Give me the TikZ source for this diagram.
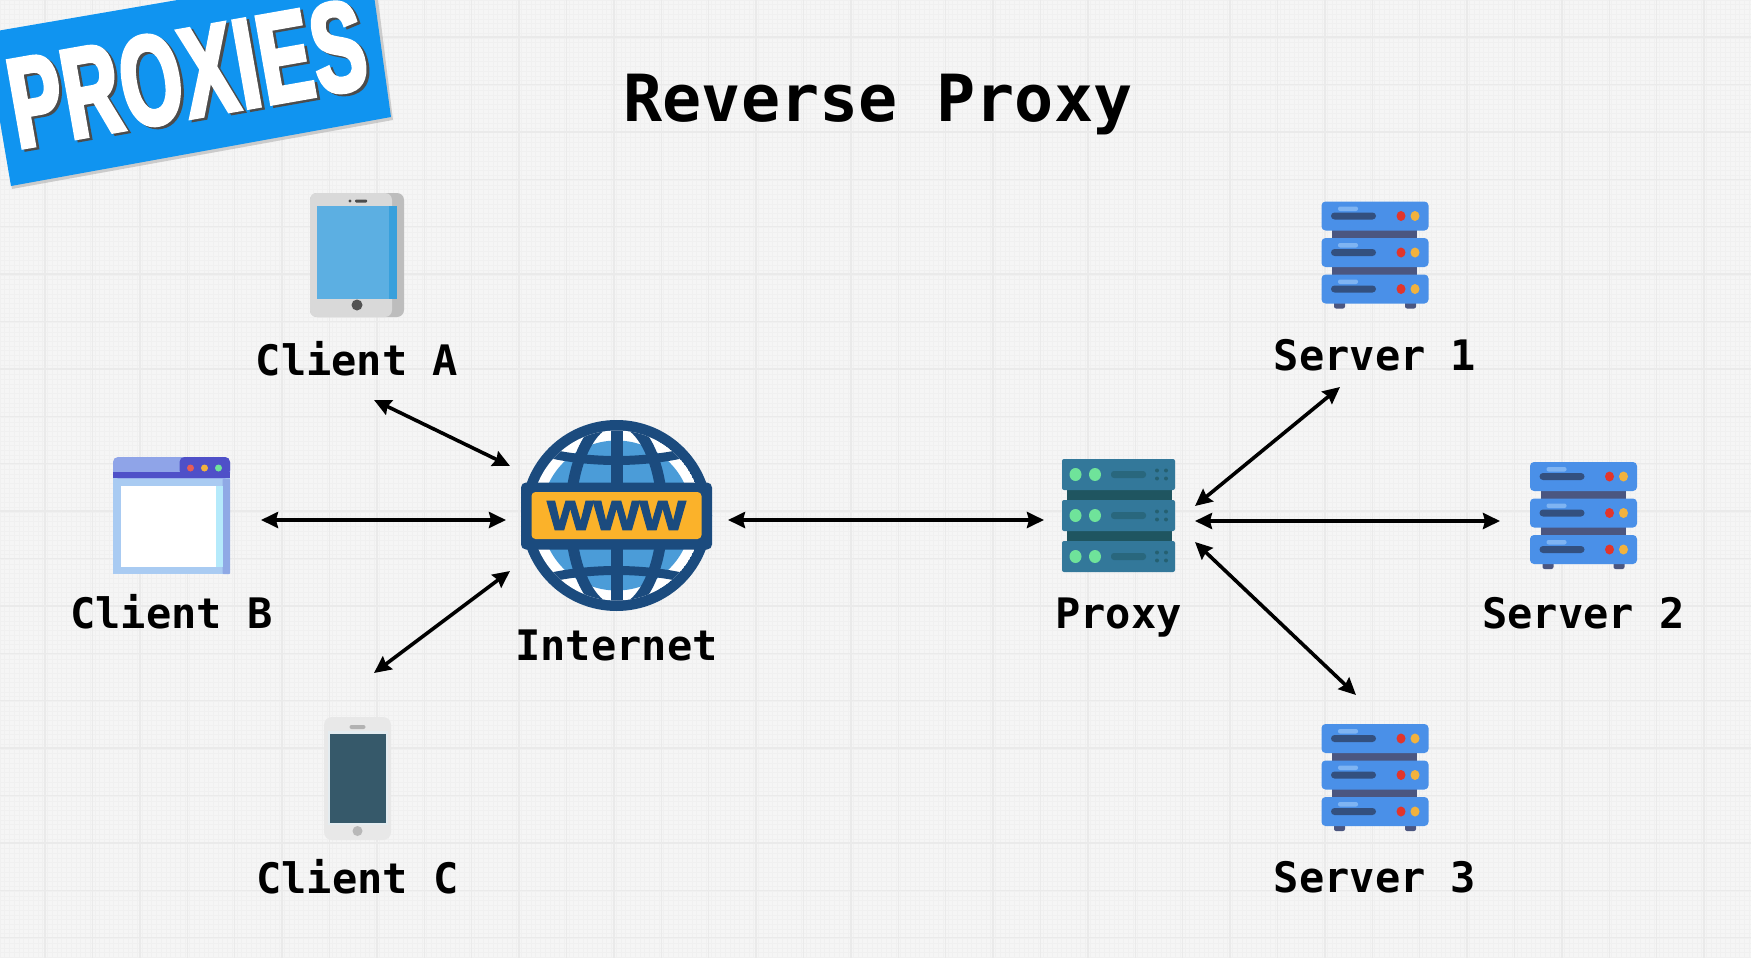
\documentclass[tikz,border=0pt]{standalone}
\usepackage{fontspec}
\usetikzlibrary{positioning, arrows.meta}
\newfontfamily\labelfont{DejaVu Sans Mono}
\newfontfamily\bannerfont{Liberation Sans Bold}[FakeStretch=0.61,FakeBold=3,LetterSpace=1.5]
\newfontfamily\wwwfont{Liberation Sans Bold}[FakeStretch=1.1,FakeBold=2]
\definecolor{paper}{HTML}{F5F5F5}
\definecolor{paperdot}{HTML}{F0F0F0}
\definecolor{paperline}{HTML}{EAEAEA}
\definecolor{bannerblue}{HTML}{1094F0}
\definecolor{navy}{HTML}{1B4B7E}
\definecolor{globeblue}{HTML}{4B9CD8}
\definecolor{wwworange}{HTML}{FBB22A}
\definecolor{unitblue}{HTML}{4A90E8}
\definecolor{unitlight}{HTML}{7FB4F2}
\definecolor{unitdark}{HTML}{4B5680}
\definecolor{unitslot}{HTML}{33507F}
\definecolor{ledred}{HTML}{E2352B}
\definecolor{ledyellow}{HTML}{F2B23E}
\definecolor{rackteal}{HTML}{33789A}
\definecolor{rackdark}{HTML}{1F5560}
\definecolor{rackled}{HTML}{6FE39A}
\definecolor{tabletblue}{HTML}{5CAFE2}
\definecolor{tabletedge}{HTML}{38A0DC}
\definecolor{winlight}{HTML}{A9CBF2}
\definecolor{winedge}{HTML}{8FA9E5}
\definecolor{winpale}{HTML}{B5EAFB}
\definecolor{winbar}{HTML}{8FA4E8}
\definecolor{windark}{HTML}{4F50C8}
\definecolor{phonescreen}{HTML}{36596A}
\definecolor{phonehalo}{HTML}{E4ECF0}
\tikzset{
  caption/.style={
    font=\labelfont\bfseries\fontsize{42}{42}\selectfont,
    inner sep=0pt, text height=32pt, text depth=0pt, text=black
  },
  title/.style={font=\labelfont\bfseries\fontsize{65}{65}\selectfont, inner sep=0pt, text=black},
  banner/.style={font=\bannerfont\fontsize{128}{128}\selectfont, inner sep=0pt, rotate=10},
  iconbox/.style={inner sep=0pt, outer sep=0pt},
  arrow/.style={line width=3.6pt, {Stealth[length=17pt,width=16pt,inset=2pt]}-{Stealth[length=17pt,width=16pt,inset=2pt]}},
  tablet/.pic={
    \fill[black!26, rounded corners=7pt] (-47,-62) rectangle (47,62);
    \fill[black!15, rounded corners=7pt] (-47,-62) rectangle (35,62);
    \fill[tabletblue] (-40,-49) rectangle (40,44);
    \fill[tabletedge] (32,-49) rectangle (40,44);
    \fill[black!70] (-7,-54) circle (1.7);
    \fill[black!70, rounded corners=1pt] (-2,-55.5) rectangle (10,-52.5);
    \fill[black!68] (0,50) circle (5.5);
  },
  browser/.pic={
    \fill[winlight] (-58.5,-40) rectangle (58.5,58.5);
    \fill[winedge, rounded corners=1pt] (51,-37) rectangle (58.5,58.5);
    \fill[winpale] (37,-30) rectangle (51,51);
    \fill[white] (-51,-30) rectangle (44,51);
    \fill[winbar, rounded corners=5pt] (-58.5,-58.5) rectangle (58.5,-37);
    \fill[windark] (-58.5,-44) rectangle (58.5,-37.5);
    \fill[windark, rounded corners=5pt] (8,-58.5) rectangle (58.5,-40);
    \fill[ledred!80!white] (19,-47.5) circle (3.5);
    \fill[ledyellow] (33,-47.5) circle (3.5);
    \fill[rackled] (47,-47.5) circle (3.5);
  },
  phone/.pic={
    \fill[black!9, rounded corners=8pt] (-33.5,-61.5) rectangle (33.5,61.5);
    \fill[phonehalo] (-30,-48) rectangle (30,46);
    \fill[phonescreen] (-28,-45) rectangle (28,44);
    \fill[black!30, rounded corners=2pt] (-8,-53.5) rectangle (8,-49.5);
    \fill[black!28] (0,52.5) circle (5);
  },
  globe/.pic={
    \fill[navy] (0,0) circle (95.5);
    \begin{scope}
      \clip (0,0) circle (85);
      \fill[white] (0,0) circle (85);
      \fill[globeblue] (0,0) circle (75);
      \draw[navy, line width=12pt] (0,-95) -- (0,95);
      \draw[navy, line width=11pt] (0,0) ellipse [x radius=46, y radius=95];
      \draw[navy, line width=9pt] (-95,-70) .. controls (-40,-50) and (40,-50) .. (95,-70);
      \draw[navy, line width=9pt] (-95,70) .. controls (-40,50) and (40,50) .. (95,70);
    \end{scope}
    \fill[navy, rounded corners=5pt] (-95.5,-33) rectangle (95.5,34);
    \fill[wwworange, rounded corners=4pt] (-85,-23.5) rectangle (85,23.5);
    \node[text=navy, inner sep=0pt, font=\wwwfont\fontsize{54}{54}\selectfont] (www) at (0,0) {www};
  },
  proxyrack/.pic={
    \fill[rackdark] (-52,-30) rectangle (53,30);
    \foreach \uy in {-41,0,41} {
      \begin{scope}[shift={(0,\uy)}]
        \fill[rackteal, rounded corners=2pt] (-56.5,-15.5) rectangle (56.5,15.5);
        \fill[rackled] (-43,0) ellipse [x radius=6, y radius=6.5];
        \fill[rackled] (-23.5,0) ellipse [x radius=6, y radius=6.5];
        \fill[rackdark!50!rackteal, rounded corners=3pt] (-7.5,-3.5) rectangle (27.5,3.5);
        \fill[rackdark!70!rackteal] (38.5,-4) circle (2) (47.5,-4) circle (2) (38.5,4) circle (2) (47.5,4) circle (2);
      \end{scope}
    }
  },
  serverstack/.pic={
    \fill[unitdark] (-43,-26) rectangle (42,22);
    \fill[unitdark, rounded corners=2pt] (-41,46) rectangle (-30,54);
    \fill[unitdark, rounded corners=2pt] (30,46) rectangle (41,54);
    \foreach \uy in {-38.5,-2,34.5} {
      \begin{scope}[shift={(0,\uy)}]
        \fill[unitblue, rounded corners=4pt] (-53.5,-14.5) rectangle (53.5,14.5);
        \fill[unitlight, rounded corners=2pt] (-37,-9.5) rectangle (-17,-5);
        \fill[unitslot, rounded corners=3.5pt] (-44,-3.5) rectangle (1,3.5);
        \fill[ledred] (26,0) ellipse [x radius=4.5, y radius=5];
        \fill[ledyellow] (40,0) ellipse [x radius=4.5, y radius=5];
      \end{scope}
    }
  }
}
\begin{document}
\begin{tikzpicture}[x=1pt, y=-1pt]
\useasboundingbox (0,0) rectangle (1751,958);

% Paper background
\begin{scope}
\clip (0,0) rectangle (1751,958);
\fill[paper] (0,0) rectangle (1751,958);
\draw[paperdot, line width=0.6pt, step=4.74pt] (0,0) grid (1751,958);
\draw[paperline, line width=1.4pt, step=47.4pt, shift={(45,37)}] (-47.4,-47.4) grid (1710,925);

% Corner banner
\fill[black!30, opacity=.6] (-15,36) -- (374,-33) -- (393,120) -- (12,189) -- cycle;
\fill[bannerblue] (-15,33) -- (370,-33) -- (391,117) -- (11,186) -- cycle;
\node[banner, text=black!70] (proxiesshade) at (190,76) {PROXIES};
\node[banner, text=white] (proxies) at (187,74) {PROXIES};
\end{scope}

% Title
\node[title] (title) at (878,105) {Reverse Proxy};

% Clients
\node[iconbox, minimum width=94pt, minimum height=124pt] (tablet) at (357,255) {};
\pic at (tablet) {tablet};
\node[caption, below=26pt of tablet] (clienta) {Client A};
\node[iconbox, minimum width=117pt, minimum height=117pt] (window) at (171.5,515.5) {};
\pic at (window) {browser};
\node[caption, below=22pt of window] (clientb) {Client B};
\node[iconbox, minimum width=67pt, minimum height=123pt] (phone) at (357.5,778.5) {};
\pic at (phone) {phone};
\node[caption, below=21pt of phone] (clientc) {Client C};

% Internet
\node[iconbox, minimum width=191pt, minimum height=191pt] (world) at (616.5,515.5) {};
\pic at (world) {globe};
\node[caption, below=17pt of world] (internet) {Internet};

% Proxy
\node[iconbox, minimum width=113pt, minimum height=113pt] (rack) at (1118.5,515.5) {};
\pic at (rack) {proxyrack};
\node[caption, below=24pt of rack] (proxy) {Proxy};

% Servers
\node[iconbox, minimum width=107pt, minimum height=107pt] (stacka) at (1375,254.5) {};
\pic at (stacka) {serverstack};
\node[caption, below=30pt of stacka] (servera) {Server 1};
\node[iconbox, minimum width=107pt, minimum height=107pt] (stackb) at (1583.5,515) {};
\pic at (stackb) {serverstack};
\node[caption, below=28pt of stackb] (serverb) {Server 2};
\node[iconbox, minimum width=107pt, minimum height=107pt] (stackc) at (1375,777) {};
\pic at (stackc) {serverstack};
\node[caption, below=30pt of stackc] (serverc) {Server 3};

% Arrow ends
\coordinate (aout) at (374,400);
\coordinate (ain) at (510,466);
\coordinate (bout) at (261,520);
\coordinate (bin) at (506,520);
\coordinate (cout) at (374,673);
\coordinate (cin) at (510,571);
\coordinate (webout) at (728,520);
\coordinate (webin) at (1044,520);
\coordinate (pa) at (1195,506);
\coordinate (sa) at (1340,387);
\coordinate (pb) at (1195,521);
\coordinate (sb) at (1500,521);
\coordinate (pc) at (1195,542);
\coordinate (sc) at (1356,695);

% Arrows
\draw[arrow] (aout) -- (ain);
\draw[arrow] (bout) -- (bin);
\draw[arrow] (cout) -- (cin);
\draw[arrow] (webout) -- (webin);
\draw[arrow] (pa) -- (sa);
\draw[arrow] (pb) -- (sb);
\draw[arrow] (pc) -- (sc);

\end{tikzpicture}
\end{document}
